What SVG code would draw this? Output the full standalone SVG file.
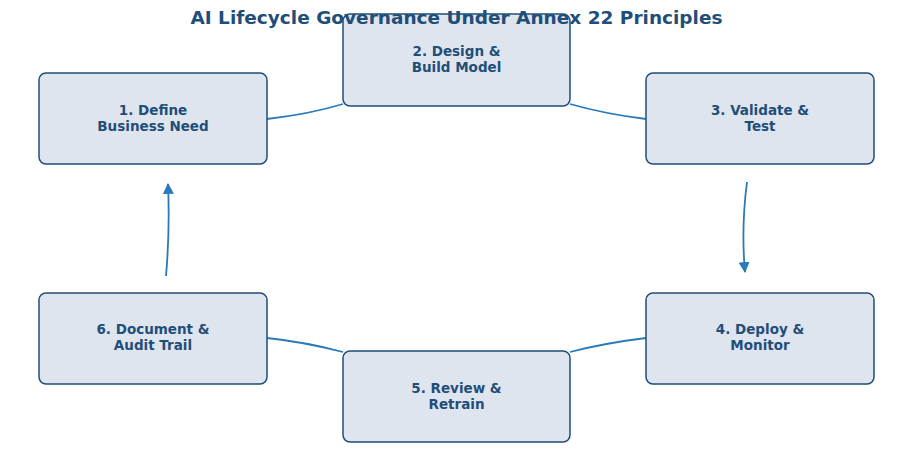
<svg xmlns="http://www.w3.org/2000/svg" width="913" height="466" viewBox="0 0 913 466">
<style>
.box{fill:#dfe5ee;stroke:#1f4e79;stroke-width:1.5}
.lbl{font-family:"DejaVu Sans",sans-serif;font-weight:bold;font-size:13.5px;fill:#1f4e79;text-anchor:middle}
.con{fill:none;stroke:#2a7ab9;stroke-width:1.8}
.title{font-family:"DejaVu Sans",sans-serif;font-weight:bold;font-size:18.5px;fill:#1f4e79;text-anchor:middle}
</style>
<defs>
<marker id="ah" viewBox="0 0 10 10" refX="9" refY="5" markerWidth="11" markerHeight="11" markerUnits="userSpaceOnUse" orient="auto">
<path d="M0,0 L10,5 L0,10 Z" fill="#2a7ab9"/>
</marker>
</defs>
<rect width="913" height="466" fill="#ffffff"/>
<g id="connectors">
<path class="con" d="M267,119 Q310,114 343,104"/>
<path class="con" d="M570,104 Q605,114 646,119"/>
<path class="con" d="M747,182 Q741,228 745,272" marker-end="url(#ah)"/>
<path class="con" d="M646,338 Q605,343 570,352"/>
<path class="con" d="M343,352 Q305,342 267,338"/>
<path class="con" d="M166,276 Q170,230 168,184" marker-end="url(#ah)"/>
</g>
<g id="node2">
<rect class="box" x="343" y="14" width="227" height="92" rx="7"/>
<text class="lbl" x="456.5" y="56">2. Design &amp;</text>
<text class="lbl" x="456.5" y="72">Build Model</text>
</g>
<text class="title" x="456.5" y="24">AI Lifecycle Governance Under Annex 22 Principles</text>
<g id="node1">
<rect class="box" x="39" y="73" width="228" height="91" rx="7"/>
<text class="lbl" x="153" y="115">1. Define</text>
<text class="lbl" x="153" y="131">Business Need</text>
</g>
<g id="node3">
<rect class="box" x="646" y="73" width="228" height="91" rx="7"/>
<text class="lbl" x="760" y="115">3. Validate &amp;</text>
<text class="lbl" x="760" y="131">Test</text>
</g>
<g id="node4">
<rect class="box" x="646" y="293" width="228" height="91" rx="7"/>
<text class="lbl" x="760" y="334">4. Deploy &amp;</text>
<text class="lbl" x="760" y="350">Monitor</text>
</g>
<g id="node5">
<rect class="box" x="343" y="351" width="227" height="91" rx="7"/>
<text class="lbl" x="456.5" y="393">5. Review &amp;</text>
<text class="lbl" x="456.5" y="409">Retrain</text>
</g>
<g id="node6">
<rect class="box" x="39" y="293" width="228" height="91" rx="7"/>
<text class="lbl" x="153" y="334">6. Document &amp;</text>
<text class="lbl" x="153" y="350">Audit Trail</text>
</g>
</svg>
